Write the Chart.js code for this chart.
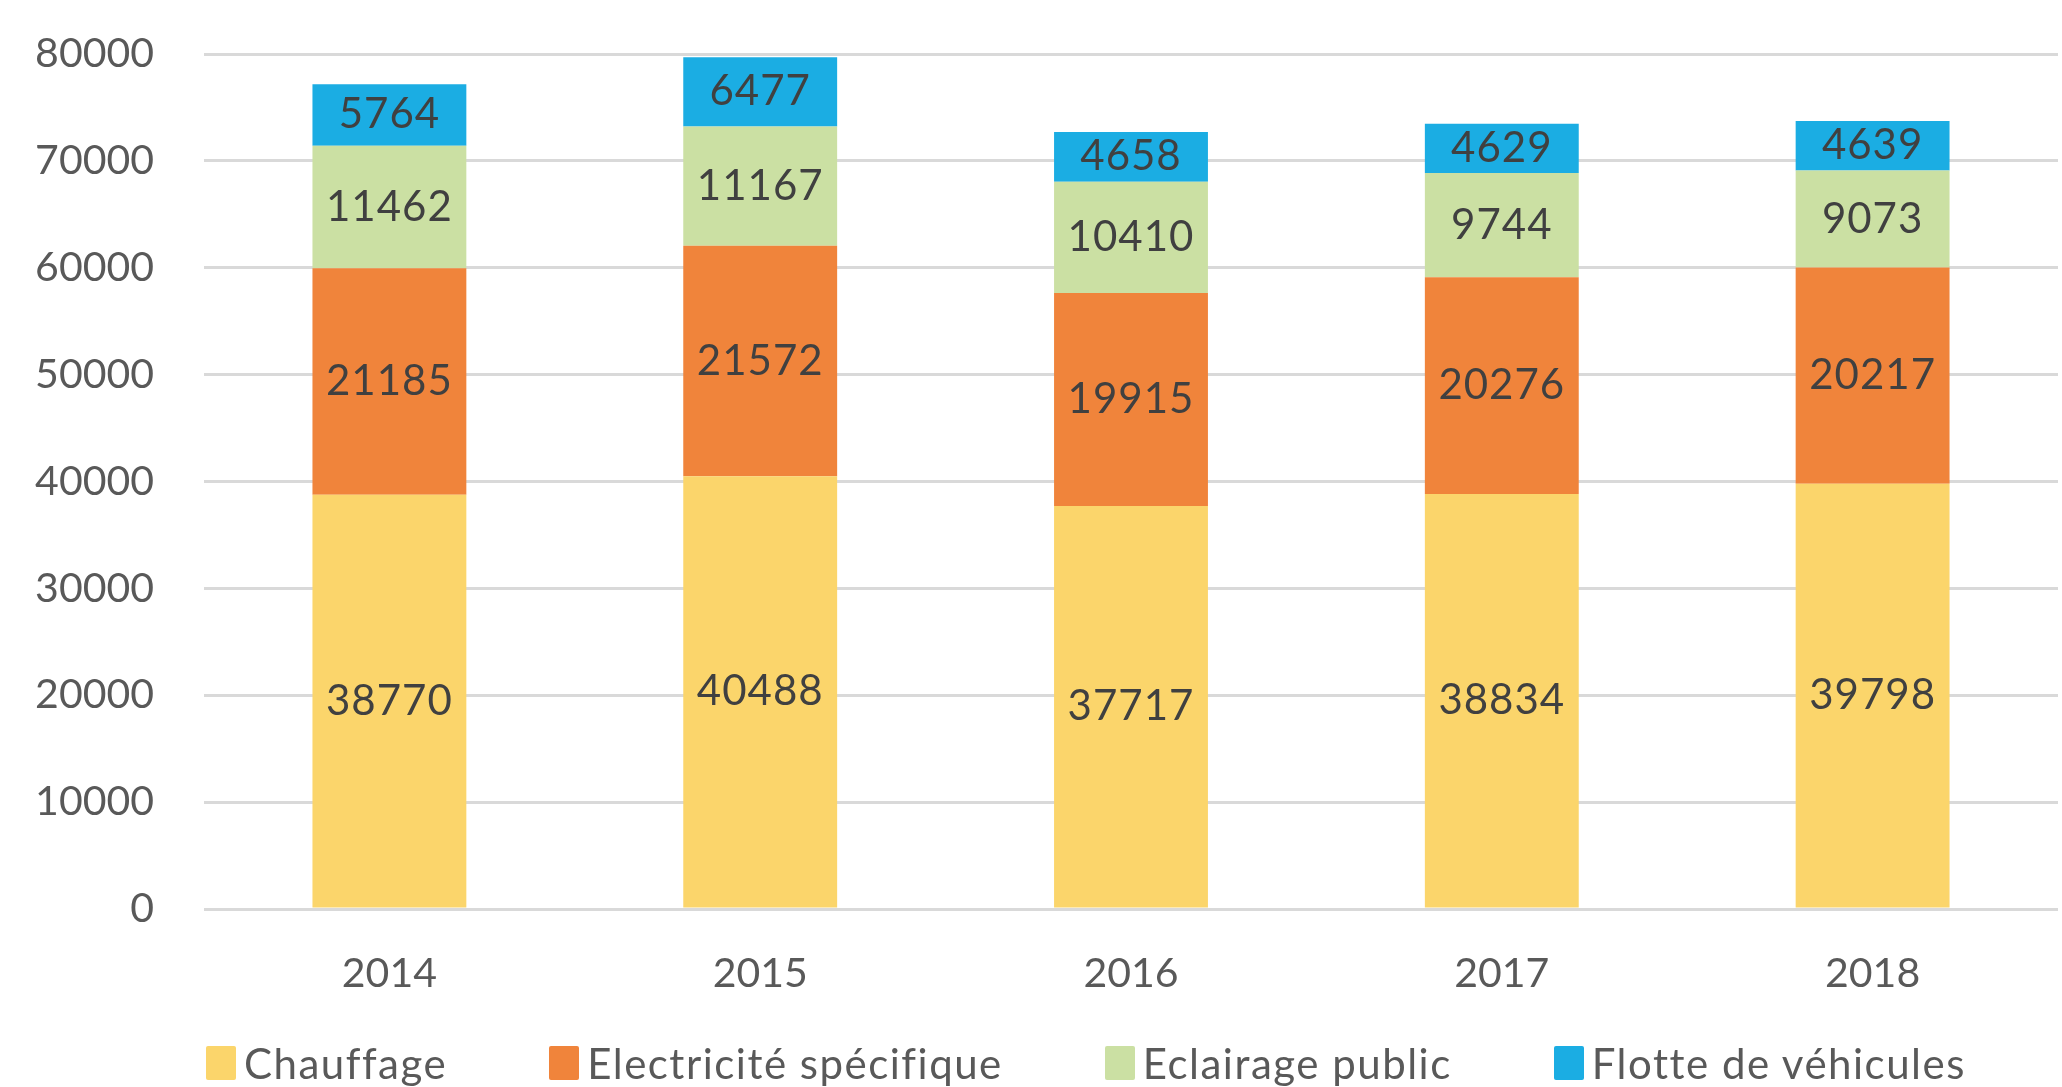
<!DOCTYPE html>
<html lang="fr">
<head>
<meta charset="UTF-8">
<title>Consommation par poste</title>
<style>
  body {
    margin: 0;
    padding: 0;
    background: #fff;
    font-family: 'Lato', sans-serif;
  }
  .wrap {
    position: relative;
    width: 2062px;
    height: 1087px;
  }
  .legend {
    position: absolute;
    left: 206px;
    top: 1038px;
    display: flex;
    gap: 102px;
    font-size: 42px;
    letter-spacing: 1.5px;
    color: #595959;
  }
  .legend .item {
    display: flex;
    align-items: center;
  }
  .legend .box {
    width: 30px;
    height: 34px;
    margin-right: 8px;
    border-radius: 2px;
  }
</style>
</head>
<body>
<div class="wrap">
  <canvas id="chart" width="2062" height="1087"></canvas>
  <div class="legend" id="legend"></div>
</div>

<script src="https://cdn.jsdelivr.net/npm/chart.js"></script>
<script>
  // values
  const years = ['2014', '2015', '2016', '2017', '2018'];
  const chauffage = [38770, 40488, 37717, 38834, 39798];
  const electricite = [21185, 21572, 19915, 20276, 20217];
  const eclairage = [11462, 11167, 10410, 9744, 9073];
  const flotte = [5764, 6477, 4658, 4629, 4639];
  const yTicks = [0, 10000, 20000, 30000, 40000, 50000, 60000, 70000, 80000];

  const seriesNames = ['Chauffage', 'Electricité spécifique', 'Eclairage public', 'Flotte de véhicules'];
  const seriesColors = ['#FBD56B', '#F0843B', '#CBE0A3', '#1BADE3'];
  const seriesData = [chauffage, electricite, eclairage, flotte];

  // labels inside each segment
  const segmentLabels = {
    id: 'segmentLabels',
    afterDatasetsDraw(chart) {
      const ctx = chart.ctx;
      ctx.save();
      ctx.font = '42px Lato';
      ctx.letterSpacing = '1px';
      ctx.fillStyle = '#404040';
      ctx.textAlign = 'center';
      ctx.textBaseline = 'middle';
      chart.data.datasets.forEach((ds, i) => {
        chart.getDatasetMeta(i).data.forEach((bar, j) => {
          ctx.fillText(ds.data[j], bar.x, (bar.y + bar.base) / 2);
        });
      });
      ctx.restore();
    }
  };

  const chart = new Chart(document.getElementById('chart'), {
    type: 'bar',
    data: {
      labels: years,
      datasets: seriesNames.map((name, i) => ({
        label: name,
        data: seriesData[i],
        backgroundColor: seriesColors[i],
        borderWidth: 0
      }))
    },
    options: {
      responsive: false,
      animation: false,
      layout: {
        padding: { top: 54, right: 4, bottom: 100, left: 0 }
      },
      plugins: {
        legend: { display: false },
        tooltip: { enabled: false }
      },
      datasets: {
        bar: { categoryPercentage: 1, barPercentage: 0.415 }
      },
      scales: {
        x: {
          stacked: true,
          grid: { display: false, drawTicks: false },
          border: { display: false },
          ticks: {
            color: '#595959',
            font: { family: 'Lato', size: 41 },
            padding: 40
          },
          afterFit(scale) { scale.height = 78; }
        },
        y: {
          stacked: true,
          min: 0,
          max: 80000,
          afterBuildTicks(scale) { scale.ticks = yTicks.map(v => ({ value: v })); },
          grid: { color: '#D9D9D9', lineWidth: 3, drawTicks: false },
          border: { display: false },
          ticks: {
            color: '#595959',
            // tiny lineHeight so the label height does not push the plot down
            font: { family: 'Lato', size: 41, lineHeight: 0.1 },
            padding: 50,
            callback: v => String(v)
          },
          afterFit(scale) { scale.width = 204; }
        }
      }
    },
    plugins: [segmentLabels]
  });

  // legend underneath
  const legend = document.getElementById('legend');
  seriesNames.forEach((name, i) => {
    const item = document.createElement('div');
    item.className = 'item';
    item.innerHTML = '<span class="box" style="background:' + seriesColors[i] + '"></span>' + name;
    legend.appendChild(item);
  });
</script>
</body>
</html>
